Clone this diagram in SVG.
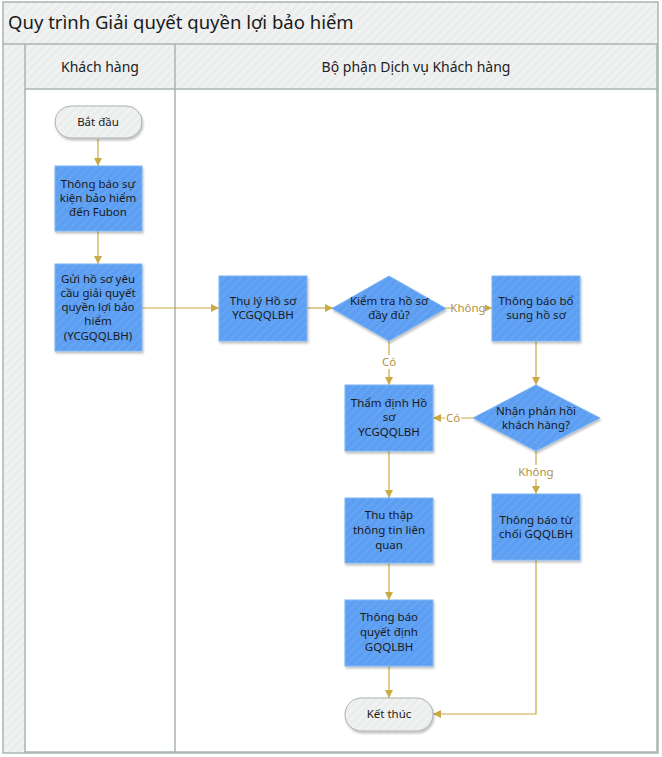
<svg xmlns="http://www.w3.org/2000/svg" width="662" height="757" viewBox="0 0 662 757">
<defs>
<pattern id="hatch" width="6" height="6" patternUnits="userSpaceOnUse" patternTransform="rotate(45)">
<rect width="6" height="6" fill="#5C9EF2"/>
<rect width="2" height="6" fill="#65A5F4"/>
</pattern>
<pattern id="ghatch" width="6" height="6" patternUnits="userSpaceOnUse" patternTransform="rotate(45)">
<rect width="6" height="6" fill="#ECEDED"/>
<rect width="2" height="6" fill="#F2F3F3"/>
</pattern>
<filter id="sh" x="-10%" y="-10%" width="130%" height="130%">
<feDropShadow dx="1" dy="2" stdDeviation="1.2" flood-color="#000" flood-opacity="0.25"/>
</filter>
<marker id="arr" viewBox="0 0 10 10" refX="10" refY="5" markerWidth="8" markerHeight="8" markerUnits="userSpaceOnUse" orient="auto">
<path d="M0,0 L10,5 L0,10 z" fill="#C9AA45"/>
</marker>
</defs>
<style>
.box{fill:url(#hatch);stroke:#7FB5F5;stroke-width:1;filter:url(#sh)}
.term{fill:url(#ghatch);stroke:#A9B0AE;stroke-width:1;filter:url(#sh)}
.t{font-family:"Noto Sans","Open Sans",sans-serif;font-size:11.5px;fill:#1a1a1a;text-anchor:middle}
.lbl{font-family:"Noto Sans","Open Sans",sans-serif;font-size:11.5px;fill:#B0913E;text-anchor:middle}
.hdr{font-family:"Noto Sans","Open Sans",sans-serif;font-size:14px;fill:#222;text-anchor:middle}
.ln{fill:none;stroke:#C9AA45;stroke-width:1.2;marker-end:url(#arr)}
.lane{stroke:#A9B5B1;stroke-width:1.5}
</style>
<g id="pool">
<rect x="3" y="2" width="655" height="751" fill="url(#ghatch)" stroke="#A9B5B1" stroke-width="1.5"/>
<rect x="25" y="89" width="632" height="663" fill="#FFFFFF"/>
<line class="lane" x1="3" y1="44" x2="658" y2="44"/>
<line class="lane" x1="25" y1="44" x2="25" y2="752"/>
<line class="lane" x1="175" y1="44" x2="175" y2="752"/>
<line class="lane" x1="25" y1="89" x2="657" y2="89"/>
<line class="lane" x1="657" y1="44" x2="657" y2="752"/>
<line class="lane" x1="25" y1="752" x2="657" y2="752"/>
<text x="8" y="29" font-family="Noto Sans, Open Sans, sans-serif" font-size="18.5" fill="#1a1a1a">Quy trình Giải quyết quyền lợi bảo hiểm</text>
<text class="hdr" x="100" y="72">Khách hàng</text>
<text class="hdr" x="416" y="72">Bộ phận Dịch vụ Khách hàng</text>
</g>
<g id="connectors">
<line class="ln" x1="98" y1="139" x2="98" y2="166"/>
<line class="ln" x1="98" y1="231" x2="98" y2="264"/>
<line class="ln" x1="142" y1="308" x2="219" y2="308"/>
<line class="ln" x1="307" y1="308" x2="333" y2="308"/>
<line class="ln" x1="446" y1="308" x2="492" y2="308"/>
<line class="ln" x1="389" y1="341" x2="389" y2="385"/>
<line class="ln" x1="536" y1="341" x2="536" y2="385"/>
<line class="ln" x1="473" y1="418" x2="433" y2="418"/>
<line class="ln" x1="536" y1="451" x2="536" y2="494"/>
<line class="ln" x1="389" y1="451" x2="389" y2="498"/>
<line class="ln" x1="389" y1="563" x2="389" y2="600"/>
<line class="ln" x1="389" y1="666" x2="389" y2="698"/>
<polyline class="ln" points="536,560 536,714 433,714"/>
<rect x="451" y="301" width="34" height="14" fill="#FFFFFF"/>
<text class="lbl" x="468" y="312">Không</text>
<rect x="380" y="355" width="18" height="14" fill="#FFFFFF"/>
<text class="lbl" x="389" y="366">Có</text>
<rect x="445" y="411" width="16" height="14" fill="#FFFFFF"/>
<text class="lbl" x="453" y="422">Có</text>
<rect x="519" y="465" width="34" height="14" fill="#FFFFFF"/>
<text class="lbl" x="536" y="476">Không</text>
</g>
<g id="start">
<rect class="term" x="55" y="106" width="87" height="32" rx="16"/>
<text class="t" x="98" y="126">Bắt đầu</text>
</g>
<g id="notify-event">
<rect class="box" x="55" y="166" width="87" height="65"/>
<text class="t" x="98" y="188">Thông báo sự</text>
<text class="t" x="98" y="202">kiện bảo hiểm</text>
<text class="t" x="98" y="216">đến Fubon</text>
</g>
<g id="submit">
<rect class="box" x="55" y="264" width="87" height="87"/>
<text class="t" x="98" y="283">Gửi hồ sơ yêu</text>
<text class="t" x="98" y="297">cầu giải quyết</text>
<text class="t" x="98" y="311">quyền lợi bảo</text>
<text class="t" x="98" y="325">hiểm</text>
<text class="t" x="98" y="340">(YCGQQLBH)</text>
</g>
<g id="receive">
<rect class="box" x="219" y="276" width="88" height="65"/>
<text class="t" x="263" y="305">Thụ lý Hồ sơ</text>
<text class="t" x="263" y="319">YCGQQLBH</text>
</g>
<g id="check">
<polygon class="box" points="389,276 446,308.5 389,341 332,308.5"/>
<text class="t" x="389" y="305">Kiểm tra hồ sơ</text>
<text class="t" x="389" y="319">đầy đủ?</text>
</g>
<g id="supplement">
<rect class="box" x="492" y="276" width="88" height="65"/>
<text class="t" x="536" y="305">Thông báo bổ</text>
<text class="t" x="536" y="319">sung hồ sơ</text>
</g>
<g id="feedback">
<polygon class="box" points="536,385 600,418 536,451 473,418"/>
<text class="t" x="536" y="415">Nhận phản hồi</text>
<text class="t" x="536" y="429">khách hàng?</text>
</g>
<g id="appraise">
<rect class="box" x="345" y="385" width="88" height="66"/>
<text class="t" x="389" y="407">Thẩm định Hồ</text>
<text class="t" x="389" y="421">sơ</text>
<text class="t" x="389" y="436">YCGQQLBH</text>
</g>
<g id="collect">
<rect class="box" x="345" y="498" width="88" height="65"/>
<text class="t" x="389" y="519">Thu thập</text>
<text class="t" x="389" y="534">thông tin liên</text>
<text class="t" x="389" y="549">quan</text>
</g>
<g id="decision">
<rect class="box" x="345" y="600" width="88" height="66"/>
<text class="t" x="389" y="621">Thông báo</text>
<text class="t" x="389" y="636">quyết định</text>
<text class="t" x="389" y="651">GQQLBH</text>
</g>
<g id="reject">
<rect class="box" x="492" y="494" width="88" height="66"/>
<text class="t" x="536" y="524">Thông báo từ</text>
<text class="t" x="536" y="538">chối GQQLBH</text>
</g>
<g id="end">
<rect class="term" x="345" y="698" width="88" height="33" rx="16.5"/>
<text class="t" x="389" y="718">Kết thúc</text>
</g>
</svg>
